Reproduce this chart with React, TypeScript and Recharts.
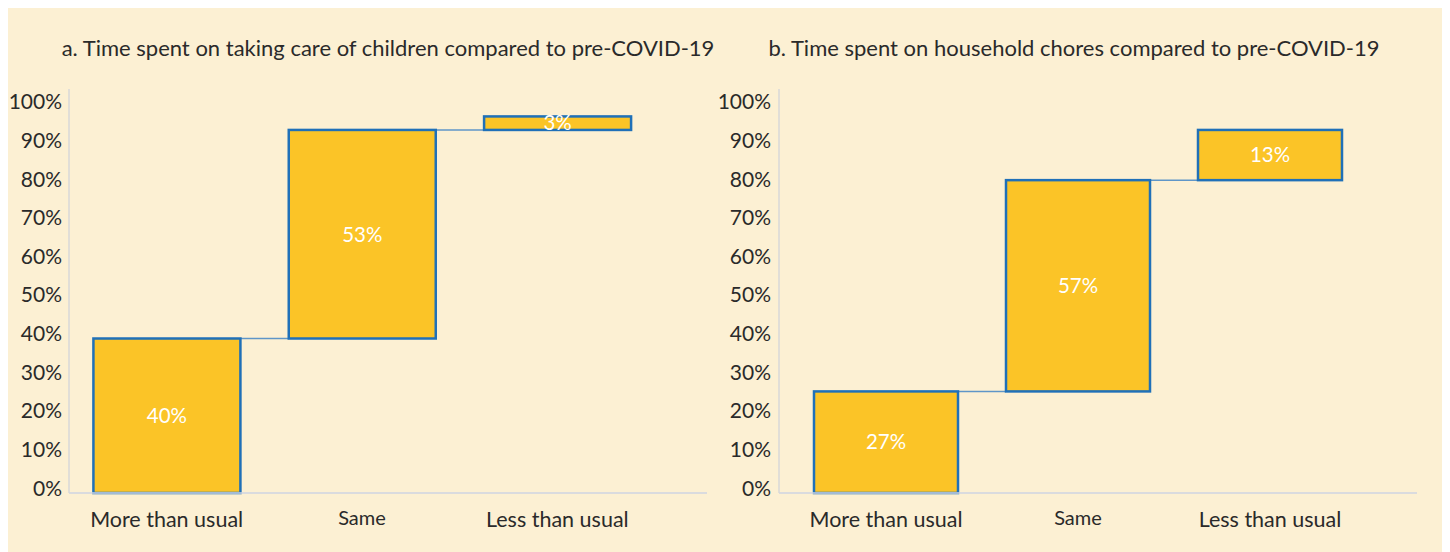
import React from 'react';
import { BarChart, Bar, XAxis, YAxis, LabelList } from 'recharts';

const CATEGORIES = ['More than usual', 'Same', 'Less than usual'];
const CHILDCARE_VALUES = [0.4, 0.54, 0.035];
const CHILDCARE_LABELS = ['40%', '53%', '3%'];
const CHORES_VALUES = [0.263, 0.547, 0.13];
const CHORES_LABELS = ['27%', '57%', '13%'];
const Y_TICKS = [0, 0.1, 0.2, 0.3, 0.4, 0.5, 0.6, 0.7, 0.8, 0.9, 1];

const FONT = 'Lato, "Noto Sans", sans-serif';
const TEXT = '#2a2a2a';
const BAR_FILL = '#fbc427';
const BAR_STROKE = '#1f70b8';
const CONNECTOR = '#5f96c8';
const GAP = 0.125;

// running totals -> [start, end] for each step of the waterfall
const buildWaterfall = (values: number[], labels: string[]) => {
  let run = 0;
  return CATEGORIES.map((name, i) => {
    const start = run;
    run += values[i];
    return { name, range: [start, run], label: labels[i] };
  });
};

const WaterfallShape = (props: any) => {
  const { x, y, width, height, index } = props;
  const top = Math.min(y, y + height);
  const h = Math.abs(height);
  // distance to the next bar follows from the category gap
  const gap = (width * 2 * GAP) / (1 - 2 * GAP);
  return (
    <g>
      {index < CATEGORIES.length - 1 && (
        <line x1={x + width} y1={top} x2={x + width + gap} y2={top} stroke={CONNECTOR} strokeWidth={1.5} />
      )}
      <rect x={x} y={top} width={width} height={h} fill={BAR_FILL} stroke={BAR_STROKE} strokeWidth={2.5} />
    </g>
  );
};

const YTick = ({ x, y, payload }: any) => (
  <text x={x} y={y - 6} textAnchor="end" dominantBaseline="central" fill={TEXT} fontSize={21} fontFamily={FONT}>
    {`${Math.round(payload.value * 100)}%`}
  </text>
);

const XTick = ({ x, y, payload }: any) => (
  <text
    x={x}
    y={payload.value === 'Same' ? y - 2 : y}
    textAnchor="middle"
    dominantBaseline="central"
    fill={TEXT}
    fontSize={payload.value === 'Same' ? 20 : 21.5}
    fontFamily={FONT}
  >
    {payload.value}
  </text>
);

interface PanelProps {
  values: number[];
  labels: string[];
  width: number;
  yAxisWidth: number;
  marginRight: number;
  padLeft: number;
  padRight: number;
  tickMargin: number;
}

const WaterfallPanel: React.FC<PanelProps> = ({ values, labels, width, yAxisWidth, marginRight, padLeft, padRight, tickMargin }) => {
  const data = buildWaterfall(values, labels);
  return (
    <BarChart
      width={width}
      height={530}
      data={data}
      margin={{ top: 81, right: marginRight, left: 0, bottom: 5 }}
      barCategoryGap="12.5%"
    >
      <XAxis
        dataKey="name"
        padding={{ left: padLeft, right: padRight }}
        axisLine={{ stroke: '#cfd5e2', strokeWidth: 1.5 }}
        tickLine={false}
        tickSize={0}
        tickMargin={26}
        height={40}
        tick={<XTick />}
        interval={0}
      />
      <YAxis
        type="number"
        domain={[0, 1.046]}
        ticks={Y_TICKS}
        interval={0}
        width={yAxisWidth}
        axisLine={{ stroke: '#d9d9d9', strokeWidth: 1.5 }}
        tickLine={false}
        tickSize={0}
        tickMargin={tickMargin}
        tick={<YTick />}
      />
      <Bar dataKey="range" isAnimationActive={false} shape={WaterfallShape}>
        <LabelList dataKey="label" position="center" fill="#ffffff" fontSize={20.5} fontFamily={FONT} />
      </Bar>
    </BarChart>
  );
};

const titleStyle: React.CSSProperties = {
  position: 'absolute',
  top: 27,
  fontFamily: FONT,
  fontSize: 22,
  lineHeight: '26px',
  color: TEXT,
  textAlign: 'center',
  whiteSpace: 'nowrap',
};

export default function App() {
  return (
    <div
      style={{
        position: 'relative',
        width: 1436,
        height: 560,
        margin: -2,
        border: '2px solid #fdd35c',
        background: '#fcf0d3',
      }}
    >
      <div style={{ ...titleStyle, left: 0, width: 760 }}>
        a. Time spent on taking care of children compared to pre-COVID-19
      </div>
      <div style={{ ...titleStyle, left: 716, width: 700 }}>
        b. Time spent on household chores compared to pre-COVID-19
      </div>
      <div style={{ position: 'absolute', left: 0, top: 0 }}>
        <WaterfallPanel
          values={CHILDCARE_VALUES}
          labels={CHILDCARE_LABELS}
          width={720}
          yAxisWidth={61}
          marginRight={21}
          padLeft={0}
          padRight={52}
          tickMargin={7}
        />
      </div>
      <div style={{ position: 'absolute', left: 700, top: 0 }}>
        <WaterfallPanel
          values={CHORES_VALUES}
          labels={CHORES_LABELS}
          width={720}
          yAxisWidth={71}
          marginRight={11}
          padLeft={11}
          padRight={51}
          tickMargin={8}
        />
      </div>
    </div>
  );
}
